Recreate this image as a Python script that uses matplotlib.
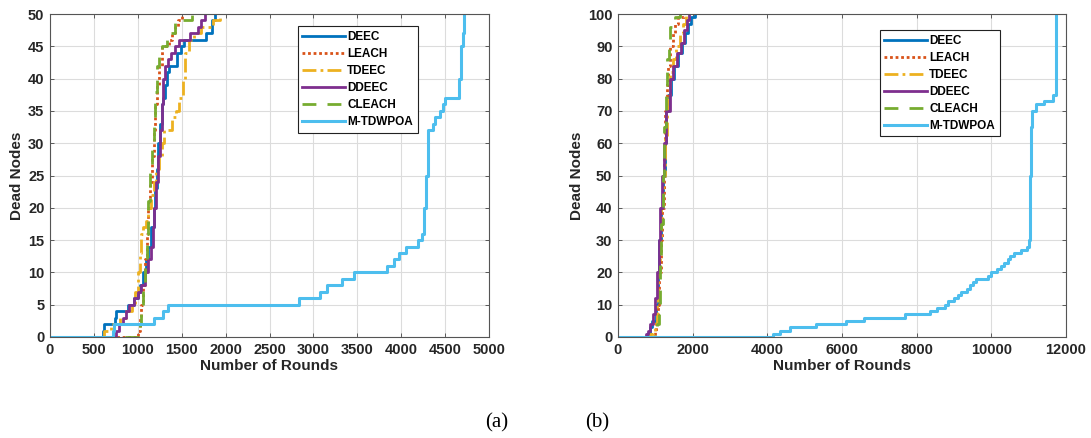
import matplotlib
matplotlib.use("Agg")
import matplotlib.pyplot as plt

plt.rcParams['font.family'] = ['Liberation Sans', 'DejaVu Sans']
plt.rcParams['font.weight'] = 'bold'

# ---------------- data (a): 50 nodes ----------------
names = ["DEEC", "LEACH", "TDEEC", "DDEEC", "CLEACH", "M-TDWPOA"]

deec_a_rounds = [0, 600, 610, 740, 750, 890, 960, 1000, 1030, 1060, 1090, 1120, 1150, 1180, 1200,
                 1215, 1230, 1250, 1270, 1290, 1310, 1330, 1350, 1450, 1490, 1530, 1780, 1840, 1880]
deec_a_dead = [0, 1, 2, 3, 4, 5, 6, 7, 8, 10, 12, 14, 17, 20, 23,
               26, 30, 33, 36, 37, 39, 41, 42, 44, 45, 46, 47, 49, 50]

leach_a_rounds = [0, 1000, 1020, 1040, 1060, 1080, 1100, 1120, 1140, 1160, 1180, 1200, 1220, 1240,
                  1270, 1350, 1390, 1420, 1460, 1500]
leach_a_dead = [0, 1, 3, 5, 8, 12, 16, 20, 24, 28, 32, 36, 39, 42,
                45, 46, 47, 48, 49, 50]

tdeec_a_rounds = [0, 620, 700, 800, 870, 930, 970, 1000, 1020, 1040, 1060, 1090, 1120, 1150, 1180,
                  1210, 1240, 1270, 1300, 1390, 1430, 1470, 1510, 1540, 1580, 1640, 1720, 1860, 1940]
tdeec_a_dead = [0, 1, 2, 3, 4, 5, 7, 10, 13, 16, 17, 18, 20, 22, 24,
                26, 28, 30, 32, 34, 35, 37, 40, 44, 46, 47, 48, 49, 50]

ddeec_a_rounds = [0, 750, 790, 830, 860, 900, 960, 1000, 1040, 1080, 1120, 1150, 1170, 1190, 1210,
                  1230, 1250, 1270, 1290, 1310, 1340, 1380, 1420, 1470, 1600, 1680, 1720, 1760]
ddeec_a_dead = [0, 1, 2, 3, 4, 5, 6, 7, 8, 10, 12, 14, 17, 20, 24,
                28, 32, 36, 40, 42, 43, 44, 45, 46, 47, 48, 49, 50]

cleach_a_rounds = [0, 1020, 1040, 1060, 1080, 1100, 1120, 1140, 1160, 1180, 1200, 1220, 1240,
                   1280, 1330, 1380, 1420, 1620]
cleach_a_dead = [0, 2, 5, 8, 12, 16, 21, 26, 30, 34, 38, 42, 44,
                 45, 46, 47, 49, 50]

mt_a_rounds = [0, 720, 730, 1180, 1290, 1345, 2840, 3070, 3150, 3330, 3465, 3840, 3915, 3975, 4050,
               4190, 4240, 4260, 4280, 4300, 4310, 4360, 4390, 4440, 4475, 4500, 4660, 4680, 4700, 4720]
mt_a_dead = [0, 1, 2, 3, 4, 5, 6, 7, 8, 9, 10, 11, 12, 13, 14,
             15, 16, 20, 25, 30, 32, 33, 34, 35, 36, 37, 40, 45, 47, 50]

# ---------------- data (b): 100 nodes ----------------
deec_b_rounds = [0, 780, 850, 920, 1010, 1060, 1110, 1150, 1200, 1250, 1290, 1340, 1430, 1500,
                 1600, 1720, 1800, 1880, 1950, 2050]
deec_b_dead = [0, 1, 3, 5, 10, 20, 30, 40, 50, 60, 70, 75, 80, 84,
               88, 91, 94, 97, 99, 100]

leach_b_rounds = [0, 1000, 1030, 1060, 1100, 1140, 1180, 1220, 1260, 1300, 1340, 1400, 1460, 1530, 1620, 1760]
leach_b_dead = [0, 2, 5, 10, 20, 30, 40, 55, 70, 78, 84, 90, 94, 97, 99, 100]

tdeec_b_rounds = [0, 870, 930, 990, 1040, 1080, 1120, 1160, 1200, 1250, 1310, 1380, 1460, 1550, 1650, 1750, 1810]
tdeec_b_dead = [0, 1, 2, 4, 10, 20, 30, 40, 50, 62, 74, 82, 86, 90, 94, 97, 100]

ddeec_b_rounds = [0, 750, 800, 870, 940, 990, 1040, 1090, 1130, 1180, 1230, 1290, 1380, 1480, 1580, 1680, 1760, 1850, 1900]
ddeec_b_dead = [0, 1, 2, 4, 7, 12, 20, 30, 40, 50, 60, 70, 80, 84, 88, 91, 95, 98, 100]

cleach_b_rounds = [0, 1000, 1050, 1090, 1130, 1160, 1200, 1240, 1280, 1320, 1360, 1400, 1440, 1520, 1670]
cleach_b_dead = [0, 1, 4, 10, 25, 35, 50, 65, 78, 86, 92, 96, 98, 99, 100]

mt_b_rounds = [0, 4150, 4350, 4620, 5300, 6100, 6600, 7700, 8350, 8550,
               8750, 8850, 9000, 9100, 9200, 9350, 9420, 9500, 9600, 9900,
               10000, 10150, 10250, 10350, 10450, 10500, 10600, 10800, 10950, 11000,
               11030, 11060, 11100, 11200, 11400, 11650, 11730]
mt_b_dead = [0, 1, 2, 3, 4, 5, 6, 7, 8, 9,
             10, 11, 12, 13, 14, 15, 16, 17, 18, 19,
             20, 21, 22, 23, 24, 25, 26, 27, 28, 30,
             50, 65, 70, 72, 73, 75, 100]

# ---------------- styles ----------------
styles = [
    dict(color='#0072BD', linestyle='-', lw=2.0),
    dict(color='#D95319', linestyle=(0, (1, 1)), lw=2.0),
    dict(color='#EDB120', linestyle=(0, (5, 1.5, 1, 1.5)), lw=2.0),
    dict(color='#7E2F8E', linestyle='-', lw=2.0),
    dict(color='#77AC30', linestyle=(0, (5, 4)), lw=2.0),
    dict(color='#4DBEEE', linestyle='-', lw=2.2),
]

series_a = [(deec_a_rounds, deec_a_dead), (leach_a_rounds, leach_a_dead), (tdeec_a_rounds, tdeec_a_dead),
            (ddeec_a_rounds, ddeec_a_dead), (cleach_a_rounds, cleach_a_dead), (mt_a_rounds, mt_a_dead)]
series_b = [(deec_b_rounds, deec_b_dead), (leach_b_rounds, leach_b_dead), (tdeec_b_rounds, tdeec_b_dead),
            (ddeec_b_rounds, ddeec_b_dead), (cleach_b_rounds, cleach_b_dead), (mt_b_rounds, mt_b_dead)]

fig = plt.figure(figsize=(10.91, 4.38), dpi=100)
axA = fig.add_axes([50/1091, 101/438, 439/1091, 323/438])
axB = fig.add_axes([618/1091, 101/438, 448/1091, 323/438])


def style_axes(ax, xmax, xstep, ymax, ystep):
    ax.set_xlim(0, xmax)
    ax.set_ylim(0, ymax)
    ax.set_xticks(range(0, xmax + 1, xstep))
    ax.set_yticks(range(0, ymax + 1, ystep))
    ax.grid(True, color='#dcdcdc', lw=0.8)
    ax.set_axisbelow(True)
    ax.tick_params(direction='in', top=True, right=True, length=3, width=0.6,
                   color='#444444', labelsize=10.5, pad=4)
    for lab in ax.get_xticklabels() + ax.get_yticklabels():
        lab.set_fontweight('bold')
        lab.set_color('#262626')
    for sp in ax.spines.values():
        sp.set_color('#555555')
        sp.set_linewidth(0.8)
    ax.set_xlabel('Number of Rounds', fontsize=11, fontweight='bold', color='#262626', labelpad=2)
    ax.set_ylabel('Dead Nodes', fontsize=11, fontweight='bold', color='#262626', labelpad=3)


for ax, series in ((axA, series_a), (axB, series_b)):
    for name, (r, d), st in zip(names, series, styles):
        ax.step(r, d, where='post', label=name, color=st['color'],
                linestyle=st['linestyle'], lw=st['lw'])

style_axes(axA, 5000, 500, 50, 5)
style_axes(axB, 12000, 2000, 100, 10)

for ax, anchor in ((axA, (0.564, 0.962)), (axB, (0.584, 0.950))):
    leg = ax.legend(loc='upper left', bbox_to_anchor=anchor, frameon=True, fancybox=False,
                    edgecolor='#222222', framealpha=1, handlelength=3.6, handletextpad=0.2,
                    labelspacing=0.42, borderpad=0.4, borderaxespad=0,
                    prop={'family': 'Liberation Sans', 'weight': 'bold', 'size': 8.5})
    leg.get_frame().set_linewidth(0.8)

fig.text(497/1091, 1 - 423/438, '(a)', ha='center', va='center', fontsize=15,
         family='Liberation Serif', fontweight='normal')
fig.text(597/1091, 1 - 423/438, '(b)', ha='center', va='center', fontsize=15,
         family='Liberation Serif', fontweight='normal')

fig.savefig('out.png', dpi=100)
